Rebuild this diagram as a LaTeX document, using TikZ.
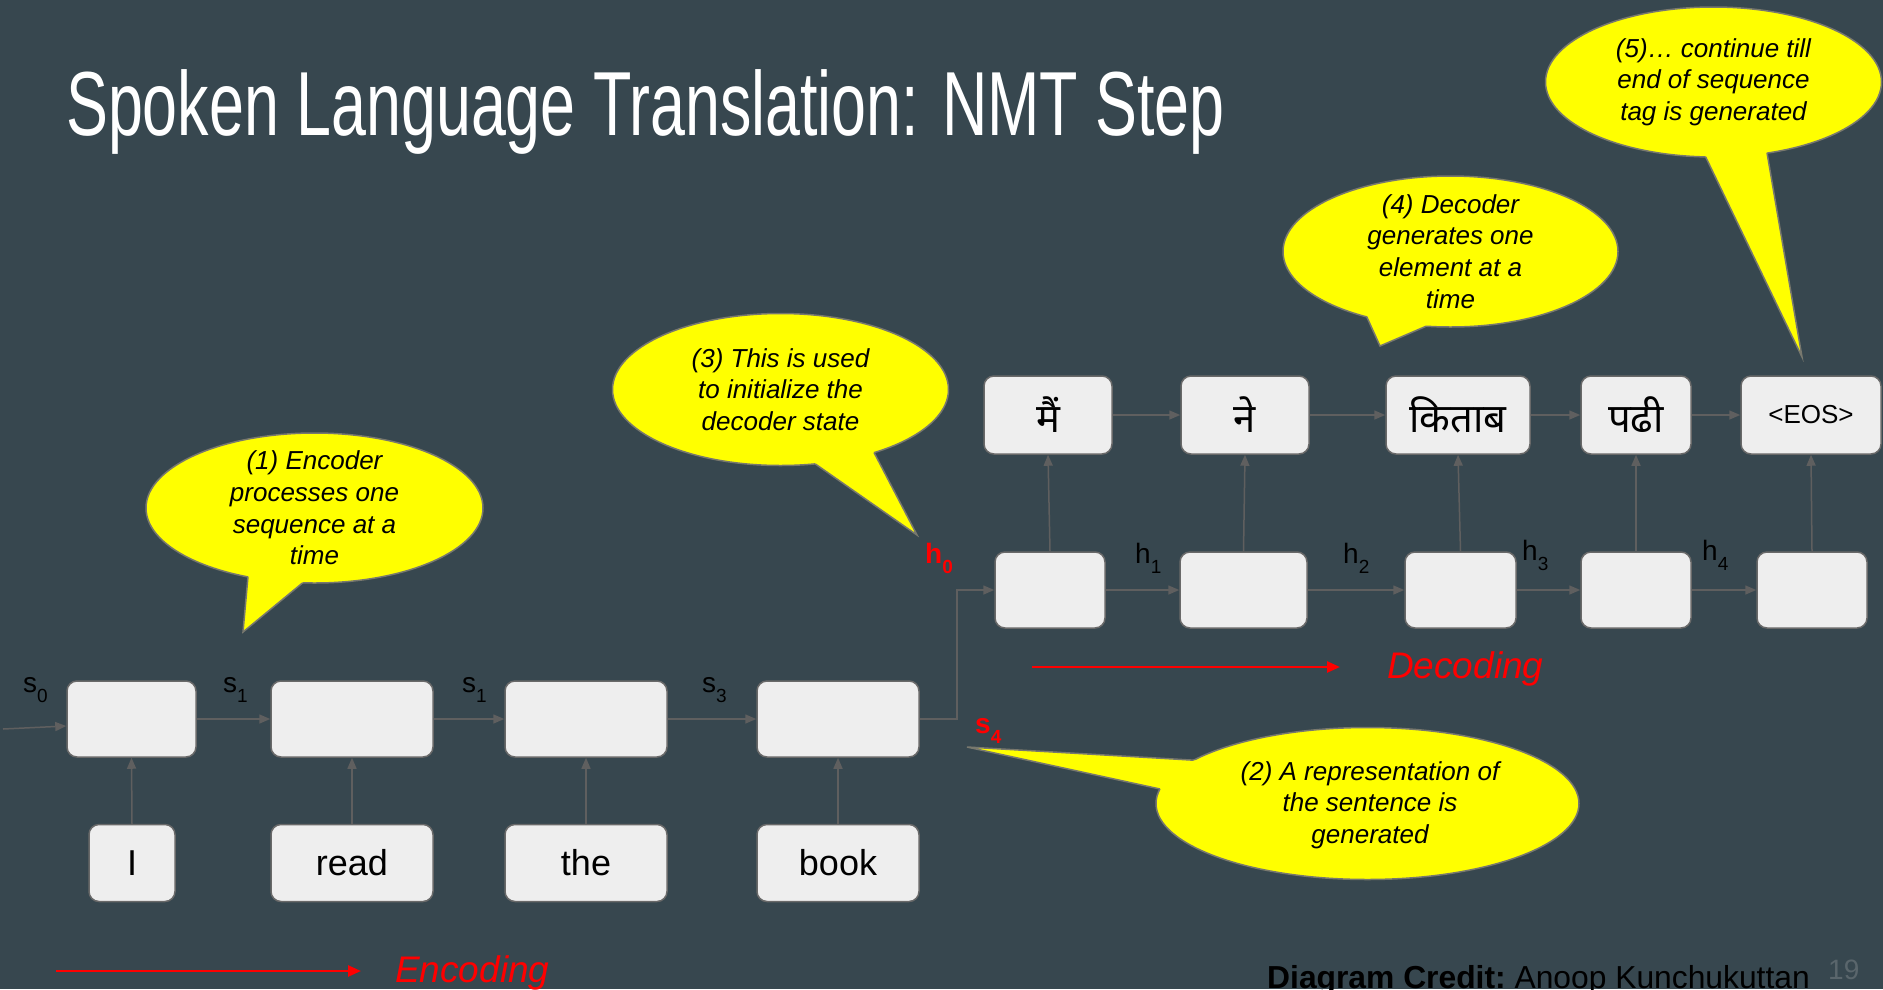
\documentclass[tikz,border=0pt]{standalone}
\usepackage{fontspec}
\setmainfont{Liberation Sans}
\newfontfamily\titlefont[FakeStretch=0.69]{Liberation Sans}
\newfontfamily\devafont[Script=Devanagari]{Noto Sans}
\usetikzlibrary{arrows.meta,shapes.geometric,calc}

\definecolor{slidebg}{RGB}{55,71,79}
\definecolor{boxfill}{RGB}{238,238,238}
\definecolor{boxline}{RGB}{105,105,105}
\definecolor{wire}{RGB}{95,95,95}
\definecolor{bubblefill}{RGB}{255,255,0}
\definecolor{bubbleline}{RGB}{120,120,110}
\definecolor{pagenum}{RGB}{90,102,108}

\newcommand{\fs}[2]{\fontsize{#1}{#2}\selectfont}
% state label with a lowered index
\newcommand{\lbl}[2]{#1\raisebox{-10pt}{\fs{19}{19}#2}}

\tikzset{
  cell/.style={draw=boxline, fill=boxfill, line width=1.5pt, rounded corners=10pt,
    inner sep=0pt, minimum height=76pt},
  word/.style={cell, minimum height=77pt, font=\fs{36}{43}},
  outcell/.style={cell, minimum height=78pt, font=\devafont\fs{40}{44}},
  wire/.style={draw=wire, line width=1.5pt, -{Triangle[length=11pt,width=9pt]}},
  redwire/.style={draw=red, line width=2.5pt, -{Triangle[length=13pt,width=11pt]}},
  bubble/.style={ellipse, draw=bubbleline, fill=bubblefill, line width=1.5pt,
    inner sep=0pt, outer sep=0pt},
  tailedge/.style={draw=bubbleline, line width=1.5pt},
  bubbletext/.style={align=center, font=\fs{26}{31.7}\itshape, text=black, inner sep=0pt},
  statelbl/.style={font=\fs{28}{28}, text=black, inner sep=0pt, anchor=base west},
  hotlbl/.style={font=\fs{28}{28}\bfseries, text=red, inner sep=0pt, anchor=base west},
}

\begin{document}
\begin{tikzpicture}[x=1pt,y=-1pt]
\useasboundingbox (0,0) rectangle (1883,989);
\fill[slidebg] (0,0) rectangle (1883,989);

% title
\node[anchor=base west, inner sep=0pt, text=white, font=\titlefont\fs{91}{91}] (title)
  at (66,135) {Spoken Language Translation: NMT Step};

% encoder states
\node[cell, minimum width=129pt] (E1) at (131.5,719) {};
\node[cell, minimum width=162pt] (E2) at (352,719) {};
\node[cell, minimum width=162pt] (E3) at (586,719) {};
\node[cell, minimum width=162pt] (E4) at (838,719) {};

% source words
\node[word, minimum width=86pt]  (W1) at (132,863) {I};
\node[word, minimum width=162pt] (W2) at (352,863) {read};
\node[word, minimum width=162pt] (W3) at (586,863) {the};
\node[word, minimum width=162pt] (W4) at (838,863) {book};

% decoder states
\node[cell, minimum width=110pt] (D1) at (1050,590) {};
\node[cell, minimum width=127pt] (D2) at (1243.5,590) {};
\node[cell, minimum width=111pt] (D3) at (1460.5,590) {};
\node[cell, minimum width=110pt] (D4) at (1636,590) {};
\node[cell, minimum width=110pt] (D5) at (1812,590) {};

% target words
\node[outcell, minimum width=128pt] (O1) at (1048,415) {मैं};
\node[outcell, minimum width=128pt] (O2) at (1245,415) {ने};
\node[outcell, minimum width=144pt] (O3) at (1458,415) {किताब};
\node[outcell, minimum width=110pt] (O4) at (1636,415) {पढी};
\node[cell, minimum width=140pt, minimum height=78pt, font=\fs{26}{30}] (O5) at (1811,415) {<EOS>};

% encoder connectors
\coordinate (s0in) at (3,729);
\draw[wire] (s0in) -- ([yshift=-7pt]E1.west);
\draw[wire] (E1.east) -- (E2.west);
\draw[wire] (E2.east) -- (E3.west);
\draw[wire] (E3.east) -- (E4.west);
\foreach \i in {1,2,3,4} \draw[wire] (W\i.north) -- (E\i.south);

% hand-over from encoder to decoder
\coordinate (jn) at (957,0);
\draw[wire] (E4.east) -| (jn |- D1.west) -- (D1.west);

% decoder connectors
\draw[wire] (D1.east) -- (D2.west);
\draw[wire] (D2.east) -- (D3.west);
\draw[wire] (D3.east) -- (D4.west);
\draw[wire] (D4.east) -- (D5.west);
\draw[wire] (O1.east) -- (O2.west);
\draw[wire] (O2.east) -- (O3.west);
\draw[wire] (O3.east) -- (O4.west);
\draw[wire] (O4.east) -- (O5.west);
\foreach \i in {1,...,5} \draw[wire] (D\i.north) -- (O\i.south);

% state labels
\node[statelbl] (ls0) at (23,692) {\lbl{s}{0}};
\node[statelbl] (ls1) at (223,692) {\lbl{s}{1}};
\node[statelbl] (ls1b) at (462,692) {\lbl{s}{1}};
\node[statelbl] (ls3) at (702,692) {\lbl{s}{3}};
\node[statelbl] (lh1) at (1135,563) {\lbl{h}{1}};
\node[statelbl] (lh2) at (1343,563) {\lbl{h}{2}};
\node[statelbl] (lh3) at (1522,560) {\lbl{h}{3}};
\node[statelbl] (lh4) at (1702,560) {\lbl{h}{4}};
\node[hotlbl] (lh0) at (925,563) {\lbl{h}{0}};
\node[hotlbl] (ls4) at (975,733) {\lbl{s}{4}};

% direction arrows
\coordinate (encA) at (56,971);
\coordinate (encB) at (361,971);
\draw[redwire] (encA) -- (encB);
\node[anchor=base west, inner sep=0pt, text=red, font=\fs{37}{37}\itshape] (enc) at (395,982) {Encoding};
\coordinate (decA) at (1032,667);
\coordinate (decB) at (1340,667);
\draw[redwire] (decA) -- (decB);
\node[anchor=base west, inner sep=0pt, text=red, font=\fs{37}{37}\itshape] (dec) at (1387,678) {Decoding};

% callout 1
\node[bubble, minimum width=337pt, minimum height=150pt] (b1) at (314.5,508) {};
\coordinate (t1) at (243,632);
\fill[bubblefill] (b1.center) -- (b1.226) -- (t1) -- (b1.261) -- cycle;
\draw[tailedge] (b1.226) -- (t1) -- (b1.261);
\node[bubbletext] (b1txt) at (b1.center) {(1) Encoder\\processes one\\sequence at a\\time};

% callout 2
\node[bubble, minimum width=423pt, minimum height=152pt] (b2) at (1367.5,803.5) {};
\coordinate (t2) at (967,747);
\fill[bubblefill] (b2.center) -- (b2.166.5) -- (t2) -- (b2.176.3) -- cycle;
\draw[tailedge] (b2.166.5) -- (t2) -- (b2.176.3);
\node[bubbletext] (b2txt) at (1370,805) {(2) A representation of\\the sentence is\\generated};

% callout 3
\node[bubble, minimum width=336pt, minimum height=152pt] (b3) at (780.5,389.5) {};
\coordinate (t3) at (917,535);
\fill[bubblefill] (b3.center) -- (b3.295.8) -- (t3) -- (b3.326) -- cycle;
\draw[tailedge] (b3.295.8) -- (t3) -- (b3.326);
\node[bubbletext] (b3txt) at (b3.center) {(3) This is used\\to initialize the\\decoder state};

% callout 4
\node[bubble, minimum width=335pt, minimum height=151pt] (b4) at (1450.5,251.5) {};
\coordinate (t4) at (1380,346);
\fill[bubblefill] (b4.center) -- (b4.218.9) -- (t4) -- (b4.252.2) -- cycle;
\draw[tailedge] (b4.218.9) -- (t4) -- (b4.252.2);
\node[bubbletext] (b4txt) at (b4.center) {(4) Decoder\\generates one\\element at a\\time};

% callout 5
\node[bubble, minimum width=336pt, minimum height=150pt] (b5) at (1713.5,82) {};
\coordinate (t5) at (1802,357);
\fill[bubblefill] (b5.center) -- (b5.264.4) -- (t5) -- (b5.307.5) -- cycle;
\draw[tailedge] (b5.264.4) -- (t5) -- (b5.307.5);
\node[bubbletext] (b5txt) at (b5.center) {(5)… continue till\\end of sequence\\tag is generated};

% footer
\node[anchor=base west, inner sep=0pt, text=black, font=\fs{31.8}{31.8}] (credit) at (1267,988)
  {\bfseries Diagram Credit:\mdseries\ Anoop Kunchukuttan};
\node[anchor=base west, inner sep=0pt, text=pagenum, font=\fs{28}{28}] (pnum) at (1828,979) {19};
\end{tikzpicture}
\end{document}
